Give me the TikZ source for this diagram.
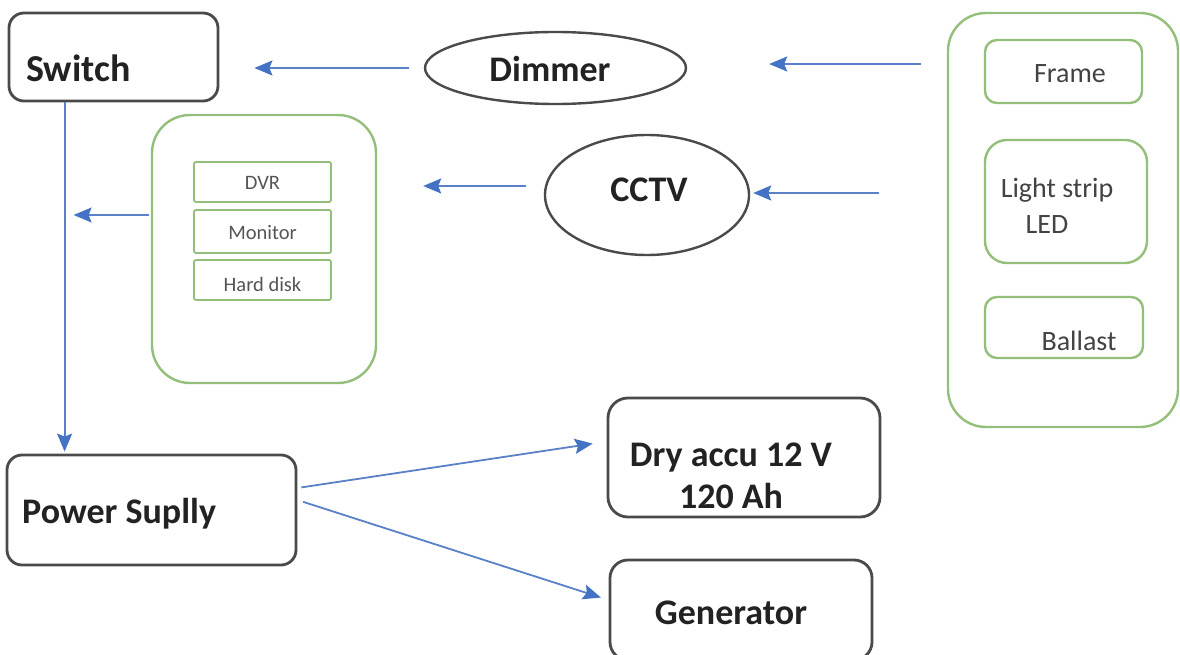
\documentclass[tikz,border=0pt]{standalone}
\usepackage{fontspec}
\setmainfont{Carlito}
\usetikzlibrary{arrows.meta,shapes.geometric}
\definecolor{boxgray}{HTML}{4A4A4A}
\definecolor{leafgreen}{HTML}{93BF7B}
\definecolor{arrowblue}{HTML}{5A80C8}
\definecolor{headblue}{HTML}{4472C4}
\definecolor{txtdark}{HTML}{222222}
\definecolor{txtgray}{HTML}{555555}
\tikzset{
  blackbox/.style={draw=boxgray, line width=2.8pt, rounded corners=15pt, rectangle, inner sep=0pt},
  greenbox/.style={draw=leafgreen, line width=2.4pt, rectangle, inner sep=0pt},
  oval/.style={draw=boxgray, line width=2.4pt, ellipse, inner sep=0pt},
  title/.style={font=\bfseries\fontsize{36}{40}\selectfont, text=txtdark, inner sep=0pt},
  label/.style={font=\fontsize{28}{36}\selectfont, text=txtdark!85, inner sep=0pt},
  tiny/.style={font=\fontsize{20.5}{22}\selectfont, text=txtgray, inner sep=0pt},
  arr/.style={draw=arrowblue, line width=1.8pt, -{Stealth[length=18pt,width=15pt,inset=3pt,fill=headblue,color=headblue]}},
}
\begin{document}
\begin{tikzpicture}[x=1pt,y=-1pt]
\clip (0,0) rectangle (1180,655);
\fill[white] (0,0) rectangle (1180,655);

% Switch
\node[blackbox, minimum width=209pt, minimum height=88pt] (switch) at (113.5,57) {};
\node[title, anchor=base west, font=\bfseries\fontsize{38}{40}\selectfont] (switchtxt) at (26,82) {Switch};

% Dimmer
\node[oval, minimum width=261pt, minimum height=72pt] (dimmer) at (555.5,68) {};
\node[title] (dimmertxt) at (550,69) {Dimmer};

% CCTV
\node[oval, minimum width=204pt, minimum height=120pt] (cctv) at (647,195) {};
\node[title] (cctvtxt) at (649,190) {CCTV};

% Right lamp group
\node[greenbox, rounded corners=38pt, minimum width=230pt, minimum height=414pt] (lamp) at (1063,220) {};
\node[greenbox, rounded corners=12pt, minimum width=157pt, minimum height=63pt] (frame) at (1063.5,71.5) {};
\node[label] (frametxt) at (1070,74) {Frame};
\node[greenbox, rounded corners=22pt, minimum width=162pt, minimum height=123pt] (strip) at (1066,201.5) {};
\node[label, align=center] (striptxt) at (1057,206) {Light strip\\LED\hspace*{20pt}};
\node[greenbox, rounded corners=12pt, minimum width=158pt, minimum height=61pt] (ballast) at (1064,327.5) {};
\node[label] (ballasttxt) at (1079,341) {Ballast};

% Middle CCTV equipment group
\node[greenbox, rounded corners=38pt, minimum width=224pt, minimum height=268pt] (equip) at (264,249) {};
\node[greenbox, line width=1.8pt, rounded corners=2pt, minimum width=137pt, minimum height=40pt] (dvr) at (262.5,182) {};
\node[tiny] (dvrtxt) at (262.5,183) {DVR};
\node[greenbox, line width=1.8pt, rounded corners=2pt, minimum width=137pt, minimum height=43pt] (monitor) at (262.5,231.5) {};
\node[tiny] (monitortxt) at (262.5,233) {Monitor};
\node[greenbox, line width=1.8pt, rounded corners=2pt, minimum width=137pt, minimum height=40pt] (hdd) at (262.5,280) {};
\node[tiny] (hddtxt) at (262.5,284) {Hard disk};

% Power supply
\node[blackbox, minimum width=289pt, minimum height=110pt] (power) at (151.5,510) {};
\node[title, anchor=base west] (powertxt) at (22,523) {Power Suplly};

% Dry accu
\node[blackbox, rounded corners=20pt, minimum width=272pt, minimum height=119pt] (dry) at (744,457.5) {};
\node[title, align=center] (drytxt) at (731,476) {Dry accu 12 V\\[2pt]120 Ah};

% Generator
\node[blackbox, rounded corners=18pt, minimum width=262pt, minimum height=100pt] (gen) at (741,610) {};
\node[title] (gentxt) at (731,613) {Generator};

% Bus line
\coordinate (bus) at ([xshift=57pt]switch.south west);

% Connectors
\draw[arr, shorten <=15pt, shorten >=35pt] (dimmer.west) -- (dimmer.west -| switch.east);
\draw[arr, shorten <=26pt, shorten >=82pt] ([yshift=4pt]lamp.west |- dimmer.center) -- ([yshift=4pt]dimmer.east);
\draw[arr, shorten <=68pt, shorten >=3pt] ([yshift=2pt]lamp.west |- cctv.center) -- ([yshift=2pt]cctv.east);
\draw[arr, shorten <=18pt, shorten >=46pt] ([yshift=9pt]cctv.west) -- ([yshift=9pt]cctv.west -| equip.east);
\draw[arr, shorten <=2pt, shorten >=9pt] ([yshift=34pt]equip.west) -- ([yshift=34pt]equip.west -| bus);
\draw[arr, shorten >=2pt] (bus) -- (bus |- power.north);
\draw[arr, shorten <=4pt, shorten >=14pt] ([yshift=22pt]power.east) -- ([yshift=16pt]dry.west);
\draw[arr, shorten <=6pt, shorten >=8pt] ([yshift=10pt]power.east) -- ([yshift=10pt]gen.west);
\end{tikzpicture}
\end{document}
